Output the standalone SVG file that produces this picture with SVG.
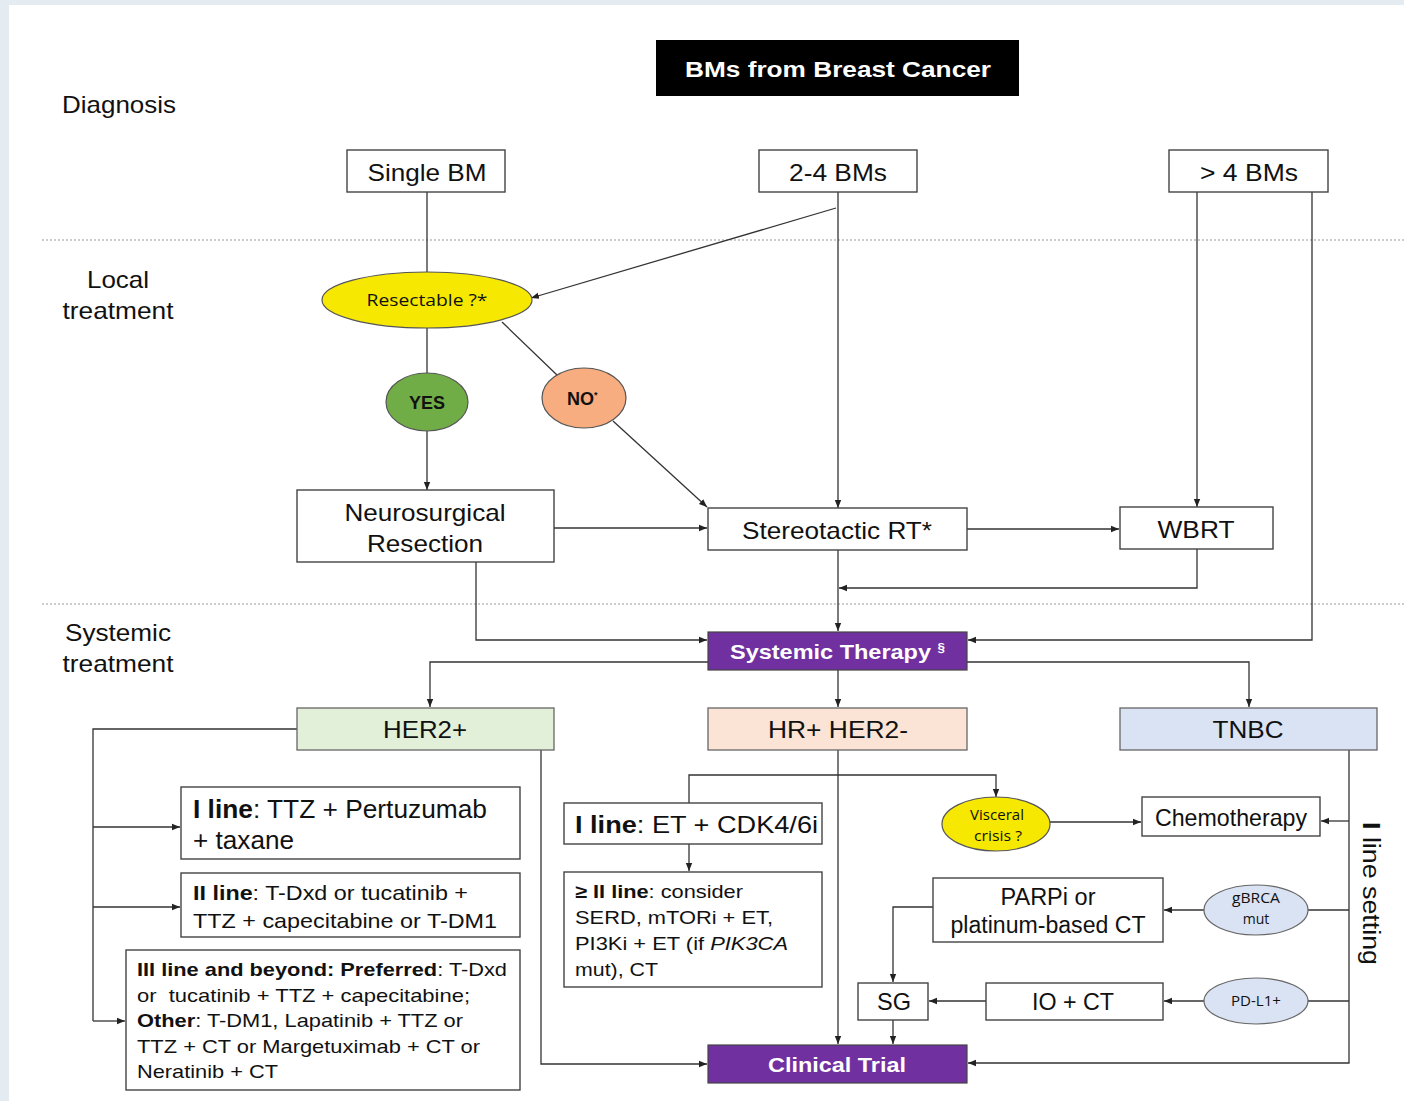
<svg xmlns="http://www.w3.org/2000/svg" width="1404" height="1101" viewBox="0 0 1404 1101">
<defs>
<marker id="arr" viewBox="0 0 10 10" refX="10" refY="5" markerWidth="8" markerHeight="8" markerUnits="userSpaceOnUse" orient="auto">
<path d="M0,1 L10,5 L0,9 z" fill="#222"/>
</marker>
<style>
.t{font-family:"Liberation Sans",Arial,sans-serif;fill:#111}
.c{font-family:"Open Sans","Noto Sans",sans-serif;fill:#111}
.w{fill:#fff}
.box{fill:#fff;stroke:#444;stroke-width:1.4}
.pur{fill:#7030a0;stroke:#444;stroke-width:1.2}
.ln{fill:none;stroke:#333;stroke-width:1.3}
.ar{fill:none;stroke:#333;stroke-width:1.3;marker-end:url(#arr)}
.dot{stroke:#999;stroke-width:1.2;stroke-dasharray:2 2}
.b{font-weight:bold}
</style>
</defs>
<rect x="0" y="0" width="1404" height="1101" fill="#e4ebf1"/>
<rect x="9" y="5" width="1395" height="1096" fill="#fff"/>

<g id="labels">
<text class="t" x="62" y="113" font-size="24" textLength="114" lengthAdjust="spacingAndGlyphs">Diagnosis</text>
<text class="t" x="118" y="288" font-size="24" text-anchor="middle" textLength="62" lengthAdjust="spacingAndGlyphs">Local</text>
<text class="t" x="118" y="319" font-size="24" text-anchor="middle" textLength="111" lengthAdjust="spacingAndGlyphs">treatment</text>
<text class="t" x="118" y="641" font-size="24" text-anchor="middle" textLength="106" lengthAdjust="spacingAndGlyphs">Systemic</text>
<text class="t" x="118" y="672" font-size="24" text-anchor="middle" textLength="111" lengthAdjust="spacingAndGlyphs">treatment</text>
<text class="t" font-size="23" transform="translate(1363,822) rotate(90)" textLength="143" lengthAdjust="spacingAndGlyphs"><tspan class="b">I</tspan> line setting</text>
<line class="dot" x1="42" y1="240" x2="1404" y2="240"/>
<line class="dot" x1="42" y1="604" x2="1404" y2="604"/>
</g>

<g id="connectors">
<line class="ln" x1="427" y1="192" x2="427" y2="272"/>
<line class="ar" x1="838" y1="192" x2="838" y2="508"/>
<line class="ar" x1="836" y1="208" x2="531" y2="298"/>
<line class="ar" x1="1197" y1="192" x2="1197" y2="507"/>
<polyline class="ar" points="1312,192 1312,640 968,640"/>
<line class="ln" x1="427" y1="328" x2="427" y2="373"/>
<line class="ar" x1="427" y1="431" x2="427" y2="490"/>
<line class="ln" x1="502" y1="322" x2="557" y2="375"/>
<line class="ar" x1="613" y1="421" x2="707" y2="507"/>
<line class="ar" x1="554" y1="528" x2="707" y2="528"/>
<line class="ar" x1="967" y1="529" x2="1119" y2="529"/>
<polyline class="ar" points="1197,549 1197,588 839,588"/>
<line class="ar" x1="838" y1="550" x2="838" y2="631"/>
<polyline class="ar" points="476,562 476,640 707,640"/>
<polyline class="ar" points="708,662 430,662 430,707"/>
<polyline class="ar" points="967,662 1249,662 1249,707"/>
<line class="ar" x1="838" y1="670" x2="838" y2="707"/>
<polyline class="ln" points="297,729 93,729 93,1021"/>
<line class="ar" x1="93" y1="827" x2="180" y2="827"/>
<line class="ar" x1="93" y1="907" x2="180" y2="907"/>
<line class="ar" x1="93" y1="1021" x2="125" y2="1021"/>
<polyline class="ar" points="541,750 541,1064 707,1064"/>
<line class="ar" x1="838" y1="750" x2="838" y2="1044"/>
<polyline class="ar" points="689,803 689,775 996,775 996,797"/>
<line class="ar" x1="689" y1="844" x2="689" y2="871"/>
<line class="ar" x1="1050" y1="822" x2="1141" y2="822"/>
<polyline class="ar" points="1349,750 1349,1063 968,1063"/>
<line class="ar" x1="1349" y1="821" x2="1321" y2="821"/>
<line class="ln" x1="1349" y1="910" x2="1308" y2="910"/>
<line class="ar" x1="1204" y1="910" x2="1164" y2="910"/>
<line class="ln" x1="1349" y1="1001" x2="1308" y2="1001"/>
<line class="ar" x1="1204" y1="1001" x2="1164" y2="1001"/>
<line class="ar" x1="986" y1="1001" x2="929" y2="1001"/>
<polyline class="ar" points="933,907 893,907 893,982"/>
<line class="ar" x1="893" y1="1020" x2="893" y2="1044"/>
</g>

<g id="title">
<rect x="656" y="40" width="363" height="56" fill="#000"/>
<text class="t b w" x="838" y="77" font-size="22" text-anchor="middle" textLength="306" lengthAdjust="spacingAndGlyphs">BMs from Breast Cancer</text>
</g>
<g id="single"><rect class="box" x="347" y="150" width="158" height="42"/><text class="t" x="427" y="181" font-size="24" text-anchor="middle" textLength="119" lengthAdjust="spacingAndGlyphs">Single BM</text></g>
<g id="two4"><rect class="box" x="759" y="150" width="158" height="42"/><text class="t" x="838" y="181" font-size="24" text-anchor="middle" textLength="98" lengthAdjust="spacingAndGlyphs">2-4 BMs</text></g>
<g id="gt4"><rect class="box" x="1169" y="150" width="159" height="42"/><text class="t" x="1249" y="181" font-size="24" text-anchor="middle" textLength="98" lengthAdjust="spacingAndGlyphs">&gt; 4 BMs</text></g>

<g id="resectable"><ellipse cx="427" cy="300" rx="105" ry="28" fill="#f6e800" stroke="#555" stroke-width="1.2"/><text class="c" x="427" y="306" font-size="16" text-anchor="middle" textLength="121" lengthAdjust="spacingAndGlyphs">Resectable ?*</text></g>
<g id="yes"><ellipse cx="427" cy="402" rx="41" ry="29" fill="#70ad47" stroke="#555" stroke-width="1.2"/><text class="t b" x="427" y="409" font-size="18" text-anchor="middle" textLength="36" lengthAdjust="spacingAndGlyphs">YES</text></g>
<g id="no"><ellipse cx="584" cy="398" rx="42" ry="30" fill="#f7ad80" stroke="#555" stroke-width="1.2"/><text class="t b" x="567" y="405" font-size="18">NO<tspan font-size="9" dy="-7">*</tspan></text></g>

<g id="neuro"><rect class="box" x="297" y="490" width="257" height="72"/><text class="t" x="425" y="521" font-size="24" text-anchor="middle" textLength="161" lengthAdjust="spacingAndGlyphs">Neurosurgical</text><text class="t" x="425" y="552" font-size="24" text-anchor="middle" textLength="116" lengthAdjust="spacingAndGlyphs">Resection</text></g>
<g id="srt"><rect class="box" x="708" y="508" width="259" height="42"/><text class="t" x="837" y="539" font-size="24" text-anchor="middle" textLength="190" lengthAdjust="spacingAndGlyphs">Stereotactic RT*</text></g>
<g id="wbrt"><rect class="box" x="1120" y="507" width="153" height="42"/><text class="t" x="1196" y="538" font-size="24" text-anchor="middle" textLength="77" lengthAdjust="spacingAndGlyphs">WBRT</text></g>

<g id="systemic"><rect class="pur" x="708" y="632" width="259" height="38"/><text class="t b w" x="730" y="659" font-size="21" textLength="215" lengthAdjust="spacingAndGlyphs">Systemic Therapy <tspan font-size="12" dy="-7">§</tspan></text></g>

<g id="her2"><rect x="297" y="708" width="257" height="42" fill="#e2efd9" stroke="#666" stroke-width="1.3"/><text class="t" x="425" y="738" font-size="24" text-anchor="middle" textLength="84" lengthAdjust="spacingAndGlyphs">HER2+</text></g>
<g id="hr"><rect x="708" y="708" width="259" height="42" fill="#fbe4d5" stroke="#666" stroke-width="1.3"/><text class="t" x="838" y="738" font-size="24" text-anchor="middle" textLength="140" lengthAdjust="spacingAndGlyphs">HR+ HER2-</text></g>
<g id="tnbc"><rect x="1120" y="708" width="257" height="42" fill="#dae3f3" stroke="#666" stroke-width="1.3"/><text class="t" x="1248" y="738" font-size="24" text-anchor="middle" textLength="71" lengthAdjust="spacingAndGlyphs">TNBC</text></g>

<g id="her2-l1"><rect class="box" x="181" y="787" width="339" height="72"/>
<text class="t" x="193" y="818" font-size="25" textLength="294" lengthAdjust="spacingAndGlyphs"><tspan class="b">I line</tspan>: TTZ + Pertuzumab</text>
<text class="t" x="193" y="849" font-size="25" textLength="101" lengthAdjust="spacingAndGlyphs">+ taxane</text></g>
<g id="her2-l2"><rect class="box" x="181" y="873" width="339" height="64"/>
<text class="t" x="193" y="900" font-size="21" textLength="275" lengthAdjust="spacingAndGlyphs"><tspan class="b">II line</tspan>: T-Dxd or tucatinib +</text>
<text class="t" x="193" y="928" font-size="21" textLength="304" lengthAdjust="spacingAndGlyphs">TTZ + capecitabine or T-DM1</text></g>
<g id="her2-l3"><rect class="box" x="126" y="950" width="394" height="140"/>
<text class="t" x="137" y="976" font-size="18.5" textLength="370" lengthAdjust="spacingAndGlyphs"><tspan class="b">III line and beyond: Preferred</tspan>: T-Dxd</text>
<text class="t" x="137" y="1002" font-size="18.5" textLength="333" lengthAdjust="spacingAndGlyphs" xml:space="preserve">or  tucatinib + TTZ + capecitabine;</text>
<text class="t" x="137" y="1027" font-size="18.5" textLength="326" lengthAdjust="spacingAndGlyphs"><tspan class="b">Other</tspan>: T-DM1, Lapatinib + TTZ or</text>
<text class="t" x="137" y="1053" font-size="18.5" textLength="343" lengthAdjust="spacingAndGlyphs">TTZ + CT or Margetuximab + CT or</text>
<text class="t" x="137" y="1078" font-size="18.5" textLength="141" lengthAdjust="spacingAndGlyphs">Neratinib + CT</text></g>

<g id="hr-l1"><rect class="box" x="564" y="803" width="258" height="41"/>
<text class="t" x="575" y="833" font-size="24" textLength="243" lengthAdjust="spacingAndGlyphs"><tspan class="b">I line</tspan>: ET + CDK4/6i</text></g>
<g id="hr-l2"><rect class="box" x="564" y="872" width="258" height="115"/>
<text class="t" x="575" y="898" font-size="18.5" textLength="168" lengthAdjust="spacingAndGlyphs"><tspan class="b">≥ II line</tspan>: consider</text>
<text class="t" x="575" y="924" font-size="18.5" textLength="198" lengthAdjust="spacingAndGlyphs">SERD, mTORi + ET,</text>
<text class="t" x="575" y="950" font-size="18.5" textLength="213" lengthAdjust="spacingAndGlyphs">PI3Ki + ET (if <tspan font-style="italic">PIK3CA</tspan></text>
<text class="t" x="575" y="976" font-size="18.5" textLength="83" lengthAdjust="spacingAndGlyphs">mut), CT</text></g>

<g id="visceral"><ellipse cx="996" cy="824" rx="54" ry="27" fill="#f6e800" stroke="#555" stroke-width="1.2"/>
<text class="c" x="997" y="820" font-size="14" text-anchor="middle" textLength="54" lengthAdjust="spacingAndGlyphs">Visceral</text>
<text class="c" x="998" y="841" font-size="14" text-anchor="middle" textLength="48" lengthAdjust="spacingAndGlyphs">crisis ?</text></g>
<g id="chemo"><rect class="box" x="1142" y="797" width="178" height="39"/><text class="t" x="1231" y="826" font-size="24" text-anchor="middle" textLength="152" lengthAdjust="spacingAndGlyphs">Chemotherapy</text></g>

<g id="gbrca"><ellipse cx="1256" cy="910" rx="52" ry="25" fill="#dae3f3" stroke="#666" stroke-width="1.2"/>
<text class="c" x="1256" y="903" font-size="14" text-anchor="middle" textLength="48" lengthAdjust="spacingAndGlyphs">gBRCA</text>
<text class="c" x="1256" y="924" font-size="14" text-anchor="middle">mut</text></g>
<g id="parpi"><rect class="box" x="933" y="878" width="230" height="64"/>
<text class="t" x="1048" y="905" font-size="23" text-anchor="middle" textLength="95" lengthAdjust="spacingAndGlyphs">PARPi or</text>
<text class="t" x="1048" y="933" font-size="23" text-anchor="middle" textLength="195" lengthAdjust="spacingAndGlyphs">platinum-based CT</text></g>

<g id="pdl1"><ellipse cx="1256" cy="1001" rx="52" ry="23" fill="#dae3f3" stroke="#666" stroke-width="1.2"/>
<text class="c" x="1256" y="1006" font-size="14" text-anchor="middle" textLength="50" lengthAdjust="spacingAndGlyphs">PD-L1+</text></g>
<g id="ioct"><rect class="box" x="986" y="983" width="177" height="37"/><text class="t" x="1073" y="1010" font-size="24" text-anchor="middle" textLength="82" lengthAdjust="spacingAndGlyphs">IO + CT</text></g>
<g id="sg"><rect class="box" x="858" y="983" width="70" height="37"/><text class="t" x="894" y="1010" font-size="24" text-anchor="middle" textLength="34" lengthAdjust="spacingAndGlyphs">SG</text></g>

<g id="trial"><rect class="pur" x="708" y="1045" width="259" height="38"/><text class="t b w" x="837" y="1072" font-size="21" text-anchor="middle" textLength="138" lengthAdjust="spacingAndGlyphs">Clinical Trial</text></g>
</svg>
